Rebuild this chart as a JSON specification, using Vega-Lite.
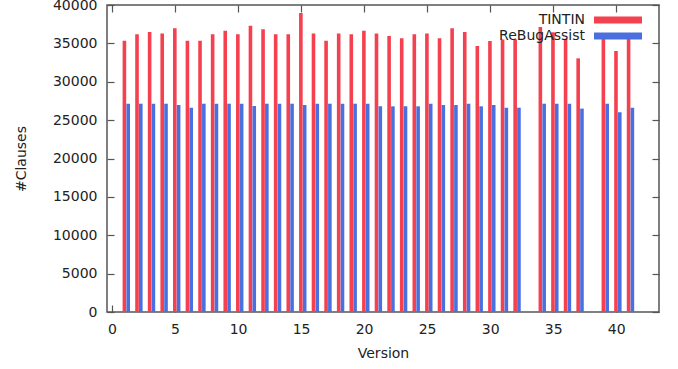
{
  "$schema": "https://vega.github.io/schema/vega-lite/v6.json",
  "width": 552,
  "height": 307,
  "autosize": {"type": "none"},
  "padding": {"left": 107, "top": 5, "right": 19, "bottom": 57},
  "background": "white",
  "config": {
    "view": {"stroke": "#555555", "strokeWidth": 1.5},
    "font": "DejaVu Sans",
    "axis": {
      "grid": false,
      "domain": false,
      "tickColor": "#555555",
      "tickWidth": 1.2,
      "tickSize": 7,
      "labelFont": "DejaVu Sans",
      "labelFontSize": 14,
      "labelColor": "#222222",
      "titleFont": "DejaVu Sans",
      "titleFontSize": 14,
      "titleFontWeight": "normal",
      "titleColor": "#222222"
    },
    "legend": {
      "labelFont": "DejaVu Sans",
      "labelFontSize": 14,
      "labelColor": "#222222"
    }
  },
  "data": {
    "values": [
      {"version": 1, "series": "TINTIN", "clauses": 35350}, {"version": 1, "series": "ReBugAssist", "clauses": 27140},
      {"version": 2, "series": "TINTIN", "clauses": 36180}, {"version": 2, "series": "ReBugAssist", "clauses": 27140},
      {"version": 3, "series": "TINTIN", "clauses": 36480}, {"version": 3, "series": "ReBugAssist", "clauses": 27140},
      {"version": 4, "series": "TINTIN", "clauses": 36300}, {"version": 4, "series": "ReBugAssist", "clauses": 27140},
      {"version": 5, "series": "TINTIN", "clauses": 36960}, {"version": 5, "series": "ReBugAssist", "clauses": 26970},
      {"version": 6, "series": "TINTIN", "clauses": 35350}, {"version": 6, "series": "ReBugAssist", "clauses": 26620},
      {"version": 7, "series": "TINTIN", "clauses": 35350}, {"version": 7, "series": "ReBugAssist", "clauses": 27140},
      {"version": 8, "series": "TINTIN", "clauses": 36180}, {"version": 8, "series": "ReBugAssist", "clauses": 27140},
      {"version": 9, "series": "TINTIN", "clauses": 36650}, {"version": 9, "series": "ReBugAssist", "clauses": 27140},
      {"version": 10, "series": "TINTIN", "clauses": 36180}, {"version": 10, "series": "ReBugAssist", "clauses": 27140},
      {"version": 11, "series": "TINTIN", "clauses": 37300}, {"version": 11, "series": "ReBugAssist", "clauses": 26840},
      {"version": 12, "series": "TINTIN", "clauses": 36830}, {"version": 12, "series": "ReBugAssist", "clauses": 27140},
      {"version": 13, "series": "TINTIN", "clauses": 36180}, {"version": 13, "series": "ReBugAssist", "clauses": 27140},
      {"version": 14, "series": "TINTIN", "clauses": 36180}, {"version": 14, "series": "ReBugAssist", "clauses": 27140},
      {"version": 15, "series": "TINTIN", "clauses": 38960}, {"version": 15, "series": "ReBugAssist", "clauses": 26970},
      {"version": 16, "series": "TINTIN", "clauses": 36300}, {"version": 16, "series": "ReBugAssist", "clauses": 27140},
      {"version": 17, "series": "TINTIN", "clauses": 35350}, {"version": 17, "series": "ReBugAssist", "clauses": 27140},
      {"version": 18, "series": "TINTIN", "clauses": 36300}, {"version": 18, "series": "ReBugAssist", "clauses": 27140},
      {"version": 19, "series": "TINTIN", "clauses": 36180}, {"version": 19, "series": "ReBugAssist", "clauses": 27140},
      {"version": 20, "series": "TINTIN", "clauses": 36650}, {"version": 20, "series": "ReBugAssist", "clauses": 27140},
      {"version": 21, "series": "TINTIN", "clauses": 36300}, {"version": 21, "series": "ReBugAssist", "clauses": 26800},
      {"version": 22, "series": "TINTIN", "clauses": 35960}, {"version": 22, "series": "ReBugAssist", "clauses": 26800},
      {"version": 23, "series": "TINTIN", "clauses": 35660}, {"version": 23, "series": "ReBugAssist", "clauses": 26800},
      {"version": 24, "series": "TINTIN", "clauses": 36180}, {"version": 24, "series": "ReBugAssist", "clauses": 26800},
      {"version": 25, "series": "TINTIN", "clauses": 36300}, {"version": 25, "series": "ReBugAssist", "clauses": 27140},
      {"version": 26, "series": "TINTIN", "clauses": 35660}, {"version": 26, "series": "ReBugAssist", "clauses": 26970},
      {"version": 27, "series": "TINTIN", "clauses": 36960}, {"version": 27, "series": "ReBugAssist", "clauses": 26970},
      {"version": 28, "series": "TINTIN", "clauses": 36480}, {"version": 28, "series": "ReBugAssist", "clauses": 27140},
      {"version": 29, "series": "TINTIN", "clauses": 34660}, {"version": 29, "series": "ReBugAssist", "clauses": 26800},
      {"version": 30, "series": "TINTIN", "clauses": 35300}, {"version": 30, "series": "ReBugAssist", "clauses": 26970},
      {"version": 31, "series": "TINTIN", "clauses": 35500}, {"version": 31, "series": "ReBugAssist", "clauses": 26620},
      {"version": 32, "series": "TINTIN", "clauses": 35500}, {"version": 32, "series": "ReBugAssist", "clauses": 26620},
      {"version": 34, "series": "TINTIN", "clauses": 37130}, {"version": 34, "series": "ReBugAssist", "clauses": 27140},
      {"version": 35, "series": "TINTIN", "clauses": 36440}, {"version": 35, "series": "ReBugAssist", "clauses": 27140},
      {"version": 36, "series": "TINTIN", "clauses": 35600}, {"version": 36, "series": "ReBugAssist", "clauses": 27140},
      {"version": 37, "series": "TINTIN", "clauses": 33050}, {"version": 37, "series": "ReBugAssist", "clauses": 26500},
      {"version": 39, "series": "TINTIN", "clauses": 35900}, {"version": 39, "series": "ReBugAssist", "clauses": 27140},
      {"version": 40, "series": "TINTIN", "clauses": 34000}, {"version": 40, "series": "ReBugAssist", "clauses": 26020},
      {"version": 41, "series": "TINTIN", "clauses": 35900}, {"version": 41, "series": "ReBugAssist", "clauses": 26620}
    ]
  },
  "resolve": {"axis": {"x": "independent", "y": "independent"}},
  "layer": [
    {
      "transform": [{"filter": "datum.series === 'TINTIN'"}],
      "mark": {"type": "bar", "width": 3.6, "xOffset": -0.2},
      "encoding": {
        "x": {
          "field": "version", "type": "quantitative",
          "scale": {"domain": [0, 43], "nice": false, "zero": false},
          "axis": {"orient": "bottom", "values": [0, 5, 10, 15, 20, 25, 30, 35, 40], "ticks": false, "title": "Version", "labelPadding": 10, "titlePadding": 10, "labelFlush": false}
        },
        "y": {
          "field": "clauses", "type": "quantitative",
          "scale": {"domain": [0, 40000], "nice": false},
          "axis": {"orient": "left", "values": [0, 5000, 10000, 15000, 20000, 25000, 30000, 35000, 40000], "ticks": false, "title": "#Clauses", "labelPadding": 10, "titlePadding": 24, "format": "d", "labelFlush": false}
        },
        "color": {
          "field": "series", "type": "nominal",
          "scale": {"domain": ["TINTIN", "ReBugAssist"], "range": ["#f4404f", "#4a70e0"]},
          "legend": {
            "title": null,
            "orient": "none",
            "legendX": 504,
            "legendY": 8,
            "padding": 0,
            "symbolType": "M-4,-0.6H4V0.6H-4Z",
            "symbolSize": 144,
            "symbolStrokeWidth": 0,
            "labelAlign": "right",
            "labelOffset": -40,
            "rowPadding": 2
          }
        }
      }
    },
    {
      "transform": [{"filter": "datum.series === 'ReBugAssist'"}],
      "mark": {"type": "bar", "width": 3.6, "xOffset": 3.6},
      "encoding": {
        "x": {
          "field": "version", "type": "quantitative",
          "axis": {"orient": "top", "offset": -7, "values": [0, 5, 10, 15, 20, 25, 30, 35, 40], "labels": false, "title": null}
        },
        "y": {
          "field": "clauses", "type": "quantitative",
          "axis": {"orient": "right", "offset": -7, "values": [0, 5000, 10000, 15000, 20000, 25000, 30000, 35000, 40000], "labels": false, "title": null}
        },
        "color": {"field": "series", "type": "nominal"}
      }
    },
    {
      "mark": {"type": "bar", "opacity": 0, "width": 1},
      "encoding": {
        "x": {
          "field": "version", "type": "quantitative",
          "axis": {"orient": "bottom", "offset": -7, "values": [0, 5, 10, 15, 20, 25, 30, 35, 40], "labels": false, "title": null}
        },
        "y": {
          "field": "clauses", "type": "quantitative",
          "axis": {"orient": "left", "offset": -7, "values": [0, 5000, 10000, 15000, 20000, 25000, 30000, 35000, 40000], "labels": false, "title": null}
        }
      }
    }
  ]
}
